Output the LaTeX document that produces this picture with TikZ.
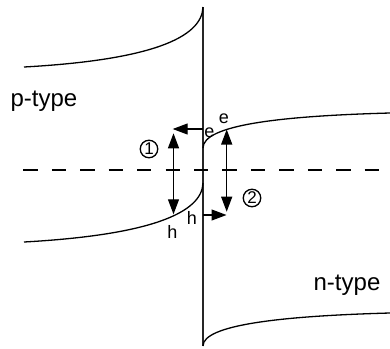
\documentclass[tikz,border=0pt]{standalone}
\usepackage{fontspec}
\setmainfont{Liberation Sans}
\usetikzlibrary{arrows.meta}
\begin{document}
\begin{tikzpicture}[x=1bp,y=-1bp,
  band/.style={line width=1.3bp},
  junction/.style={line width=1.4bp, black!85},
  fermi/.style={line width=2bp, dash pattern=on 14.3bp off 14.15bp},
  tip/.tip={Triangle[length=15bp,width=11bp]},
  hop/.style={line width=1.2bp, -tip},
  gap/.style={line width=1.2bp, tip-tip},
  carrier/.style={font=\fontsize{18bp}{18bp}\selectfont, inner sep=0pt},
  region/.style={font=\fontsize{24bp}{24bp}\selectfont, inner sep=0pt, anchor=base},
  marker/.style={circle, draw, line width=1.3bp, minimum size=17.5bp, inner sep=0pt,
    font=\fontsize{17bp}{17bp}\selectfont}
]
\useasboundingbox (0,0) rectangle (390,349);

% metallurgical junction
\coordinate (jtop) at (203,7);
\coordinate (jbot) at (203,346);
\draw[junction] (jtop) -- (jbot);

% Fermi level
\coordinate (fl) at (23.3,169.5);
\coordinate (fr) at (380,169.5);
\draw[fermi] (fl) -- (fr);

% p-side band edges
\draw[band] (24,67) .. controls (150,60) and (202,38) .. (jtop);
\coordinate (pv) at (203,183);
\draw[band] (24,242) .. controls (150,235) and (202,213) .. (pv);

% n-side band edges
\coordinate (nc) at (203,148);
\draw[band] (nc) .. controls (203,125) and (280,116) .. (390,113);
\draw[band] (jbot) .. controls (203,325) and (280,316) .. (390,313);

% region labels
\node[region] (ptype) at (44,106.5) {p-type};
\node[region] (ntype) at (347,290) {n-type};

% path 1: electron leaves the n side, drops across the gap on the p side
\coordinate (e1s) at (203,129);
\coordinate (e1t) at (172.7,129);
\coordinate (g1t) at (173.5,133.3);
\coordinate (g1b) at (173.5,214.3);
\draw[hop] (e1s) -- (e1t);
\draw[gap] (g1t) -- (g1b);
\node[carrier] (e1) at (209.5,132.5) {e};
\node[carrier] (h1) at (172.5,231.5) {h};
\node[marker] (m1) at (149,149) {1};

% path 2: hole crosses to the n side, recombines there
\coordinate (h2s) at (203,215);
\coordinate (h2t) at (226.5,215);
\coordinate (g2t) at (226.7,129.5);
\coordinate (g2b) at (226.7,211.7);
\draw[hop] (h2s) -- (h2t);
\draw[gap] (g2t) -- (g2b);
\node[carrier] (e2) at (224,119) {e};
\node[carrier] (h2) at (192,218) {h};
\node[marker] (m2) at (252,198) {2};
\end{tikzpicture}
\end{document}
